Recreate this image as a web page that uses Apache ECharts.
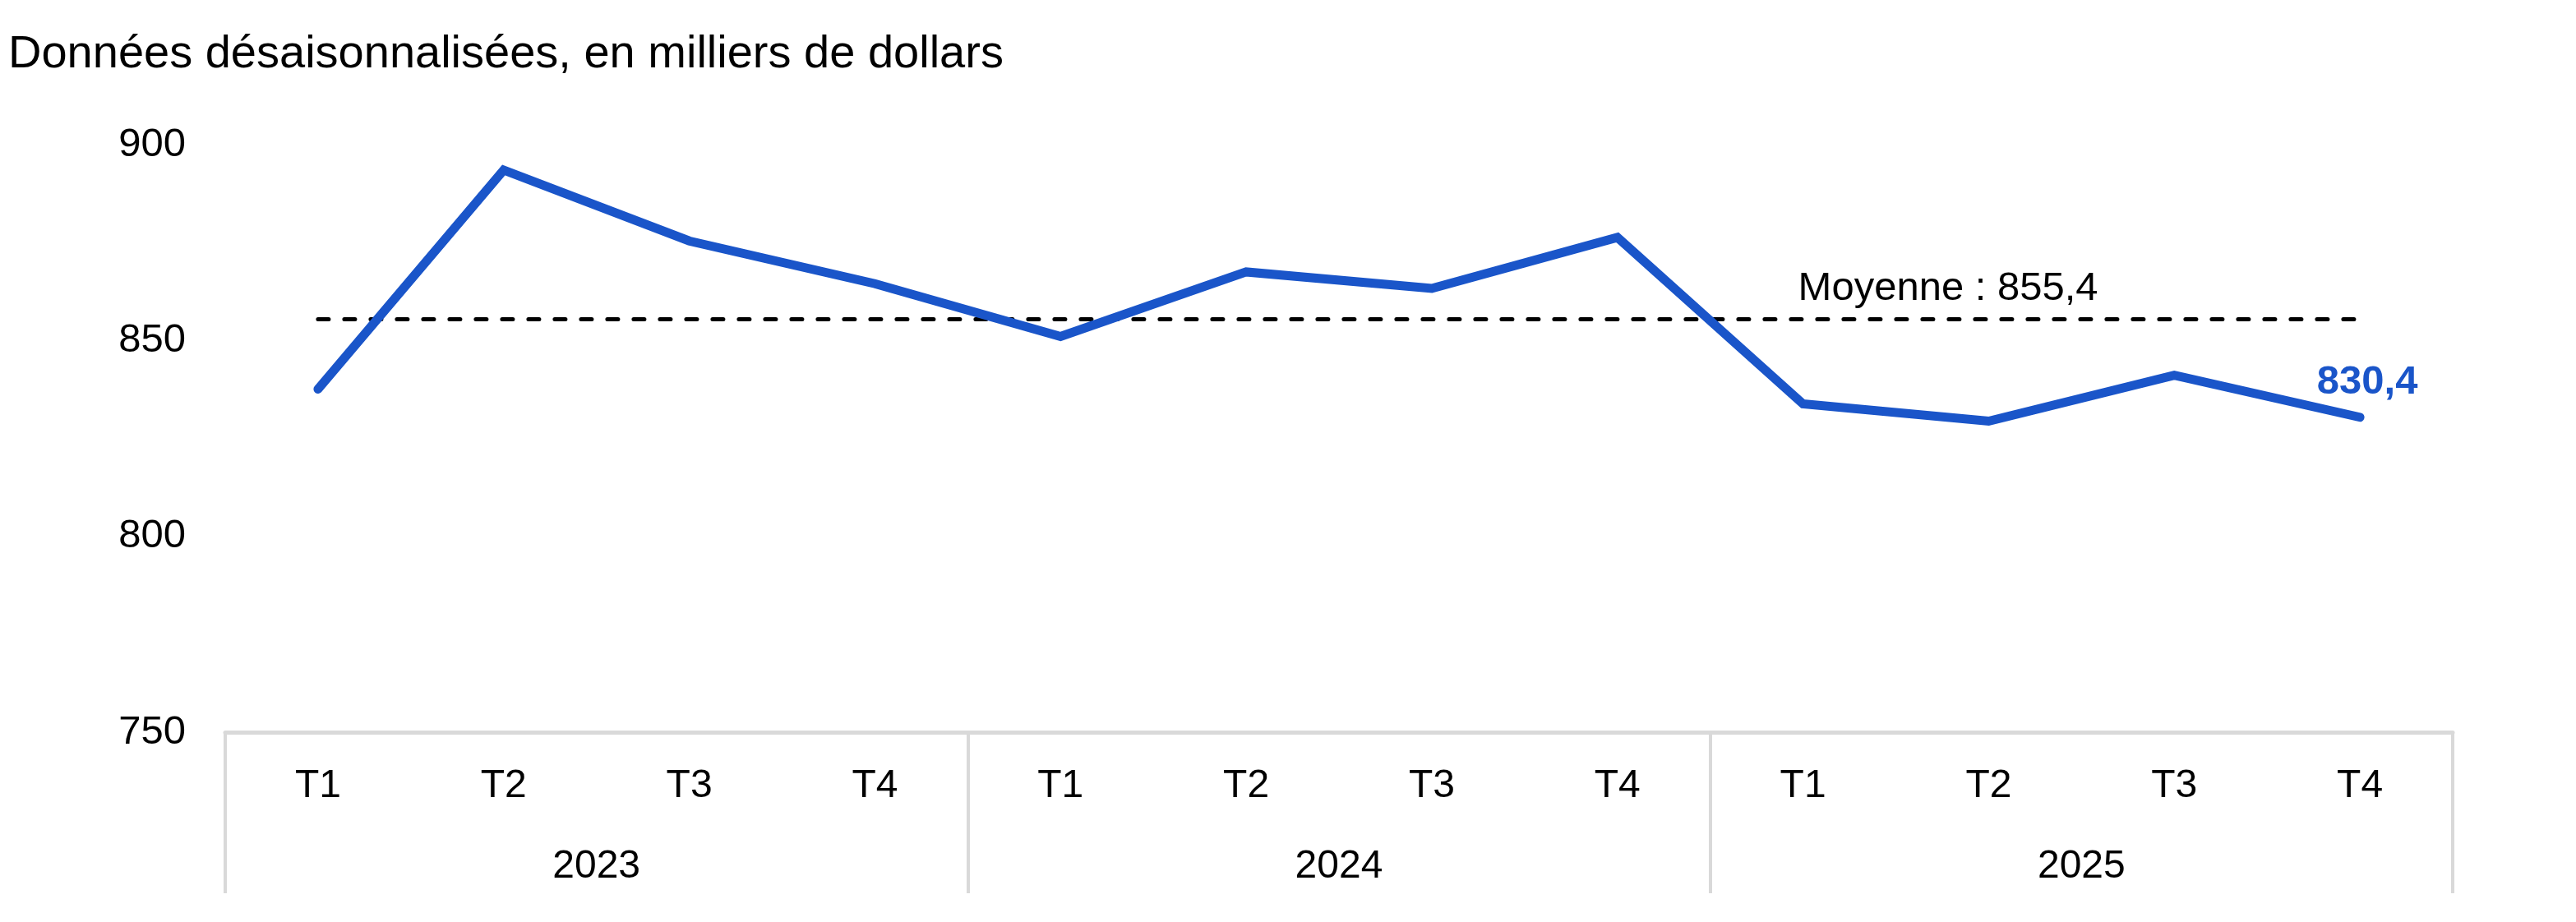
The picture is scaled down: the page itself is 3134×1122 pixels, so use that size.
<!DOCTYPE html>
<html>
<head>
<meta charset="utf-8">
<script src="https://cdn.jsdelivr.net/npm/echarts@6/dist/echarts.min.js"></script>
<style>html,body{margin:0;padding:0;background:#fff}#c{width:3134px;height:1122px}</style>
</head>
<body>
<div id="c"></div>
<script>
const titleText = 'Données désaisonnalisées, en milliers de dollars';
const quarters = ['T1','T2','T3','T4','T1','T2','T3','T4','T1','T2','T3','T4'];
const years = ['2023','2024','2025'];
const values = [837.6, 893.5, 875.4, 864.5, 851.0, 867.5, 863.3, 876.3, 833.8, 829.4, 841.1, 830.4];
const average = 855.4;
const averageLabel = 'Moyenne : 855,4';
const lastLabel = '830,4';
const yMin = 750, yMax = 900, yStep = 50;

const FONT = 'Liberation Sans, Arial, sans-serif';
const BLUE = '#1a55c9';
const GRAY = '#d9d9d9';

const chart = echarts.init(document.getElementById('c'), null, {renderer: 'canvas'});
chart.setOption({
  backgroundColor: '#fff',
  animation: false,
  textStyle: {fontFamily: FONT},
  graphic: [{
    type: 'text', x: 10, y: 67,
    style: {text: titleText, font: '56px ' + FONT, fill: '#000', align: 'left', verticalAlign: 'middle'}
  }],
  grid: {left: 274, right: 150, top: 176, bottom: 1122 - 891, containLabel: false},
  xAxis: [{
    type: 'category', data: quarters, position: 'bottom', boundaryGap: true,
    axisLine: {show: true, lineStyle: {color: GRAY, width: 5}},
    axisTick: {show: false},
    axisLabel: {interval: 0, color: '#000', fontSize: 48, fontFamily: FONT, margin: 42, lineHeight: 48}
  }, {
    type: 'category', data: years, position: 'bottom', boundaryGap: true,
    axisLine: {show: false},
    axisTick: {show: true, interval: 0, length: 196, inside: false, lineStyle: {color: GRAY, width: 4}},
    axisLabel: {interval: 0, color: '#000', fontSize: 48, fontFamily: FONT, margin: 140, lineHeight: 48}
  }],
  yAxis: {
    type: 'value', min: yMin, max: yMax, interval: yStep,
    axisLine: {show: false}, axisTick: {show: false}, splitLine: {show: false},
    axisLabel: {color: '#000', fontSize: 49, fontFamily: FONT, margin: 48}
  },
  series: [{
    type: 'line', data: values, xAxisIndex: 0,
    symbol: 'none', showSymbol: false,
    lineStyle: {color: BLUE, width: 11, cap: 'round', join: 'miter'},
    itemStyle: {color: BLUE},
    z: 3,
    markLine: {
      silent: true, symbol: 'none',
      lineStyle: {color: '#000', type: [13, 19], width: 5, cap: 'round'},
      label: {show: false},
      data: [[{coord: [0, average]}, {coord: [quarters.length - 1, average]}]],
      z: 2
    },
    markPoint: {
      silent: true,
      symbol: 'circle', symbolSize: 1,
      itemStyle: {color: 'rgba(0,0,0,0)'},
      data: [{
        coord: [8, average],
        label: {show: true, formatter: averageLabel, position: 'inside', align: 'left', verticalAlign: 'middle',
          offset: [-6, -37], color: '#000', fontSize: 49, fontFamily: FONT}
      }, {
        coord: [quarters.length - 1, values[values.length - 1]],
        label: {show: true, formatter: lastLabel, position: 'inside', align: 'center', verticalAlign: 'middle',
          offset: [9, -42], color: BLUE, fontSize: 49, fontWeight: 'bold', fontFamily: FONT}
      }]
    }
  }]
});
</script>
</body>
</html>
